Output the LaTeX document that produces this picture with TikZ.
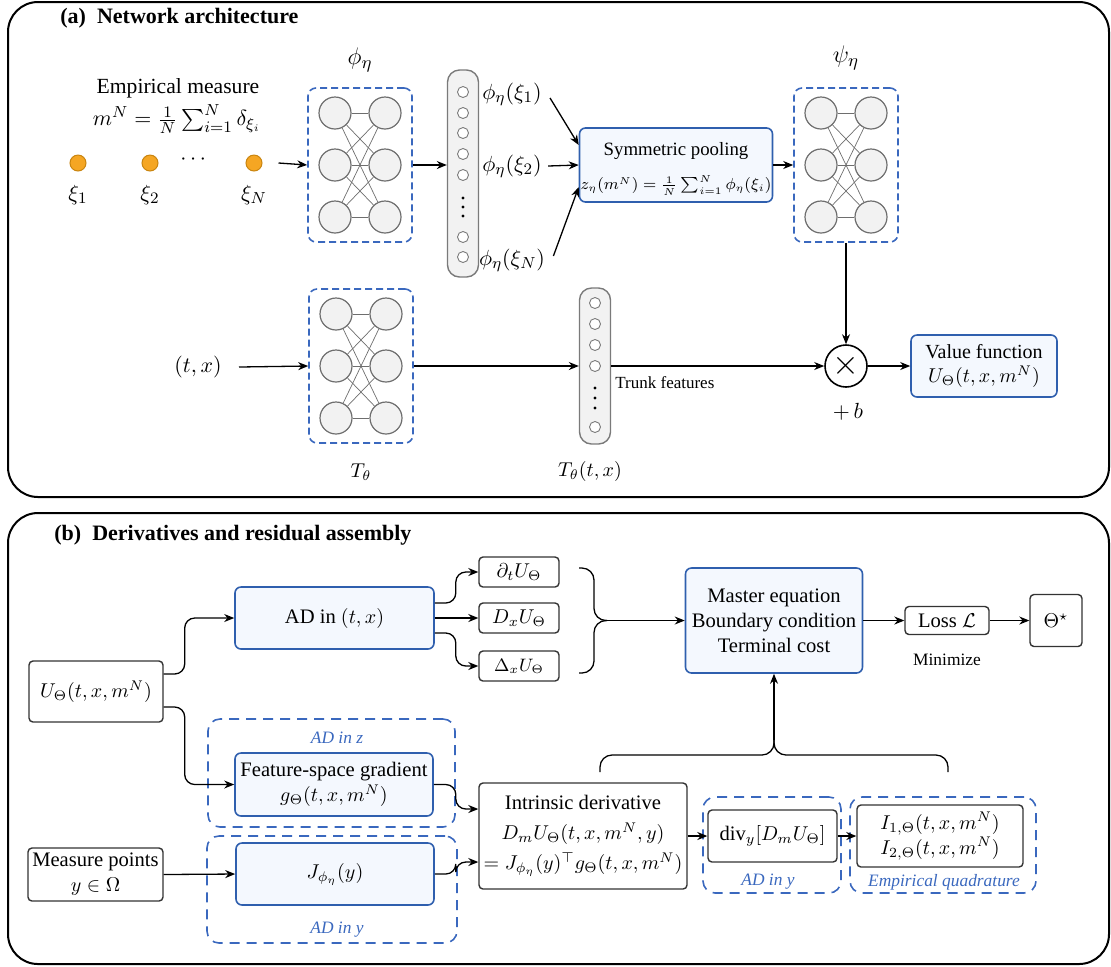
\documentclass[tikz,border=0pt]{standalone}
\usepackage{amsmath}
\usepackage{fontspec}
\setmainfont{Liberation Serif}
\usetikzlibrary{arrows.meta,calc}
\definecolor{bline}{HTML}{2F5FAE}
\definecolor{bfill}{HTML}{F4F8FE}
\definecolor{dblue}{HTML}{3A68BE}
\definecolor{ngray}{HTML}{6E6E6E}
\definecolor{nfill}{HTML}{F2F2F2}
\definecolor{cgray}{HTML}{7A7A7A}
\definecolor{pline}{HTML}{333333}
\definecolor{odot}{HTML}{F5A623}
\definecolor{odraw}{HTML}{C98510}
\newcommand{\fmain}{\fontsize{10.3}{12.5}\selectfont}
\newcommand{\fsmall}{\fontsize{8.7}{10.5}\selectfont}
\newcommand{\fpool}{\fontsize{9.4}{11}\selectfont}
\newcommand{\fbig}{\fontsize{12.5}{14}\selectfont}
\newcommand{\fa}{\fontsize{10.8}{13}\selectfont}
\newcommand{\ftitle}{\fontsize{11}{13}\selectfont\bfseries}
\tikzset{
 arr/.style={-{Stealth[length=5pt,width=4pt]}, line width=0.65pt},
 panel/.style={draw, line width=1pt, rounded corners=15pt},
 netbox/.style={draw=dblue, dash pattern=on 3.5pt off 2pt, line width=0.8pt, rounded corners=4pt, minimum width=52pt, minimum height=77pt, inner sep=0pt},
 neuron/.style={circle, draw=ngray, fill=nfill, line width=0.6pt, minimum size=16pt, inner sep=0pt},
 netedge/.style={draw=ngray, line width=0.35pt},
 colbox/.style={draw=cgray, fill=nfill, rounded corners=6pt, line width=0.7pt, minimum width=15.5pt, inner sep=0pt},
 unit/.style={circle, draw=cgray, fill=white, line width=0.45pt, minimum size=5.5pt, inner sep=0pt},
 bbox/.style={draw=bline, fill=bfill, line width=0.8pt, rounded corners=3pt, inner sep=0pt, align=center, font=\fmain},
 pbox/.style={draw=pline, fill=white, line width=0.7pt, rounded corners=2pt, inner sep=0pt, align=center, font=\fmain},
 dbox/.style={draw=dblue, dash pattern=on 5pt off 3.5pt, line width=0.8pt, rounded corners=6pt, inner sep=0pt},
 dlabel/.style={text=dblue, font=\fsmall\itshape, inner sep=0pt},
 xdot/.style={circle, draw=odraw, fill=odot, line width=0.5pt, minimum size=8pt, inner sep=0pt},
 brc/.style={line width=0.65pt, rounded corners=6pt},
}
\newcommand{\mynet}[3]{%
  \node[netbox] (#1) at (#2,#3) {};
  \foreach \r/\dy in {1/-52,2/0,3/52}{%
    \node[neuron] (#1l\r) at ({#2-25},{#3+\dy}) {};
    \node[neuron] (#1r\r) at ({#2+25},{#3+\dy}) {};
  }
  \foreach \i in {1,2,3}{\foreach \j in {1,2,3}{\draw[netedge] (#1l\i) -- (#1r\j);}}
}
\begin{document}
\begin{tikzpicture}[x=0.5pt,y=-0.5pt]
\useasboundingbox (0,0) rectangle (1111,966);
% panels
\draw[panel] (8,2) rectangle (1109,497);
\draw[panel] (8,513) rectangle (1109,964);
\node[font=\ftitle, anchor=west, inner sep=0pt] (ta) at (60,18) {(a)\enspace Network architecture};
\node[font=\ftitle, anchor=west, inner sep=0pt] (tb) at (54,535) {(b)\enspace Derivatives and residual assembly};

% ---------- panel (a)
\node[font=\fa, inner sep=0pt] (emp) at (178,88) {Empirical measure};
\node[font=\fa, inner sep=0pt] (empf) at (177,119) {$m^N = \frac{1}{N}\sum_{i=1}^N \delta_{\xi_i}$};
\node[xdot] (x1) at (78,163) {};
\node[xdot] (x2) at (150,163) {};
\node[xdot] (xN) at (254,163) {};
\node[font=\fa, inner sep=0pt] (xdots) at (195,160) {$\cdots$};
\node[font=\fa, inner sep=0pt] (lx1) at (78,195) {$\xi_1$};
\node[font=\fa, inner sep=0pt] (lx2) at (150,195) {$\xi_2$};
\node[font=\fa, inner sep=0pt] (lxN) at (254,195) {$\xi_N$};

\node[font=\fbig, inner sep=0pt] (phil) at (360,60) {$\phi_\eta$};
\mynet{phin}{360}{165}
\draw[arr] ([xshift=8pt]xN.east) -- (phin.west);

\node[colbox, minimum height=103.5pt] (phicol) at (463,173.5) {};
\foreach \k/\yy in {1/92,2/113,3/133,4/154,5/175,6/237,7/257}{\node[unit] (pu\k) at (463,\yy) {};}
\foreach \yy in {198,207,216}{\fill (463,\yy) circle (0.8pt);}
\draw[arr] (phin.east) -- (phin.east -| phicol.west);

\node[font=\fa, inner sep=0pt] (l1) at (512,94) {$\phi_\eta(\xi_1)$};
\node[font=\fa, inner sep=0pt] (l2) at (512,166) {$\phi_\eta(\xi_2)$};
\node[font=\fa, inner sep=0pt] (lN) at (512,260) {$\phi_\eta(\xi_N)$};

\node[bbox, minimum width=96.5pt, minimum height=37pt] (pool) at (676,165) {};
\node[font=\fpool, inner sep=0pt] (poolt) at (676,151) {Symmetric pooling};
\node[font=\fontsize{7.8}{9}\selectfont, inner sep=0pt] (poolf) at (676,186) {$z_\eta(m^N) = \frac{1}{N}\sum_{i=1}^N \phi_\eta(\xi_i)$};
\draw[arr] ([xshift=4pt,yshift=-2pt]l1.east) -- ([yshift=10pt]pool.west);
\draw[arr] ([xshift=3pt]l2.east) -- (pool.west);
\draw[arr] ([xshift=4pt,yshift=2pt]lN.east) -- ([yshift=-11pt]pool.west);

\node[font=\fbig, inner sep=0pt] (psil) at (846,58) {$\psi_\eta$};
\mynet{psin}{846}{165}
\draw[arr] (pool.east) -- (psin.west);

\node[font=\fa, inner sep=0pt] (tx) at (198,367) {$(t,x)$};
\mynet{tn}{361}{366}
\draw[arr] ([xshift=-1pt]tx.east) ++(19,0) -- (tn.west);
\node[font=\fmain, inner sep=0pt] (tl) at (361,472) {$T_\theta$};

\node[colbox, minimum height=78pt] (tcol) at (595,366) {};
\foreach \k/\yy in {1/303,2/324,3/345,4/366,5/427}{\node[unit] (tu\k) at (595,\yy) {};}
\foreach \yy in {388,398,408}{\fill (595,\yy) circle (0.8pt);}
\draw[arr] (tn.east) -- (tcol.west);
\node[font=\fmain, inner sep=0pt] (tcl) at (590,471) {$T_\theta(t,x)$};
\node[font=\fontsize{8.5}{10}\selectfont, inner sep=0pt, anchor=west] (trf) at (615,383) {Trunk features};

\node[circle, draw, line width=0.8pt, minimum size=21pt, inner sep=0pt] (ot) at (846,366) {\fontsize{17}{17}\selectfont$\times$};
\draw[arr] (tcol.east) -- (ot.west);
\draw[arr] (psin.south) -- (ot.north);
\node[font=\fa, inner sep=0pt] (pb) at (848,412) {$+\,b$};

\node[bbox, minimum width=73pt, minimum height=31pt, font=\fontsize{10}{12}\selectfont] (val) at (984,366) {Value function\\$U_\Theta(t,x,m^N)$};
\draw[arr] (ot.east) -- (val.west);

% ---------- panel (b)
\node[pbox, minimum width=67pt, minimum height=30.5pt] (uth) at (96,691.5) {$U_\Theta(t,x,m^N)$};
\node[bbox, minimum width=99.5pt, minimum height=31pt] (ad) at (334.5,618) {AD in $(t,x)$};
\node[pbox, minimum width=40pt, minimum height=15pt] (dt) at (519,572) {$\partial_t U_\Theta$};
\node[pbox, minimum width=40pt, minimum height=15pt] (dx) at (519,618) {$D_x U_\Theta$};
\node[pbox, minimum width=40pt, minimum height=15pt, font=\fontsize{9}{11}\selectfont] (lx) at (519,666) {$\Delta_x U_\Theta$};

\draw[arr, rounded corners=5pt] ([yshift=8.75pt]uth.east) -- ++(21,0) |- (ad.west);
\draw[arr, rounded corners=5pt] ([yshift=7.5pt]ad.east) -- ++(21,0) |- (dt.west);
\draw[arr] (ad.east) -- (dx.west);
\draw[arr, rounded corners=5pt] ([yshift=-7.5pt]ad.east) -- ++(21,0) |- (lx.west);

% right-pointing brace
\coordinate (vtip) at (607,620.5);
\draw[brc] (579,568) -- (594,568) -- (594,620.5) -- (vtip);
\draw[brc] (579,673) -- (594,673) -- (594,620.5) -- (vtip);
\node[bbox, minimum width=88.5pt, minimum height=52.5pt] (master) at (774,620.5) {Master equation\\Boundary condition\\Terminal cost};
\draw[arr] (vtip) -- (master.west);
\node[pbox, minimum width=42pt, minimum height=14pt] (loss) at (947,620.5) {Loss $\mathcal{L}$};
\node[font=\fsmall, inner sep=0pt] (minz) at (947,660) {Minimize};
\node[pbox, minimum width=26pt, minimum height=26pt] (opt) at (1056,620.5) {$\Theta^\star$};
\draw[arr] (master.east) -- (loss.west);
\draw[arr] (loss.east) -- (opt.west);

\node[dbox, minimum width=123.5pt, minimum height=54pt] (adz) at (331.5,773) {};
\node[dlabel] (adzl) at (337,738) {AD in z};
\node[bbox, minimum width=99pt, minimum height=31.5pt] (fsg) at (334,784.5) {Feature-space gradient\\$g_\Theta(t,x,m^N)$};
\draw[arr, rounded corners=5pt] ([yshift=-7.75pt]uth.east) -- ++(21,0) |- (fsg.west);

\node[dbox, minimum width=125pt, minimum height=53.5pt] (ady) at (332,889.5) {};
\node[dlabel] (adyl) at (337,930) {AD in y};
\node[bbox, minimum width=99pt, minimum height=31pt] (jac) at (335,874) {$J_{\phi_\eta}(y)$};
\node[pbox, minimum width=67.5pt, minimum height=26.5pt] (meas) at (95.5,874.5) {Measure points\\$y\in\Omega$};
\draw[arr] (meas.east) -- (jac.west);

\node[pbox, minimum width=104pt, minimum height=53pt] (intr) at (583,836) {Intrinsic derivative\\[2.5pt]$D_mU_\Theta(t,x,m^N,y)$\\[2.5pt]$=J_{\phi_\eta}(y)^\top g_\Theta(t,x,m^N)$};
\draw[arr, rounded corners=5pt] (fsg.east) -- ++(22,0) |- ([yshift=13.5pt]intr.west);
\draw[arr, rounded corners=5pt] (jac.east) -- ++(21,0) |- ([yshift=-13pt]intr.west);

\node[dbox, minimum width=69pt, minimum height=48pt] (ady2) at (772,845) {};
\node[dlabel] (ady2l) at (768,882) {AD in y};
\node[pbox, minimum width=64.5pt, minimum height=26pt] (div) at (772.5,836) {$\mathrm{div}_y[D_mU_\Theta]$};
\draw[arr] (intr.east) -- (div.west);

\node[dbox, minimum width=93pt, minimum height=48pt] (eq) at (943,845) {};
\node[dlabel] (eql) at (944,882) {Empirical quadrature};
\node[pbox, minimum width=83pt, minimum height=31pt] (ib) at (940,836) {$I_{1,\Theta}(t,x,m^N)$\\$I_{2,\Theta}(t,x,m^N)$};
\draw[arr] (div.east) -- (ib.west);

% upward brace
\coordinate (htip) at (774,740);
\draw[brc] (600,772) -- (600,755) -- (774,755) -- (htip);
\draw[brc] (948,772) -- (948,755) -- (774,755) -- (htip);
\draw[arr] (htip) -- (master.south);
\end{tikzpicture}
\end{document}
